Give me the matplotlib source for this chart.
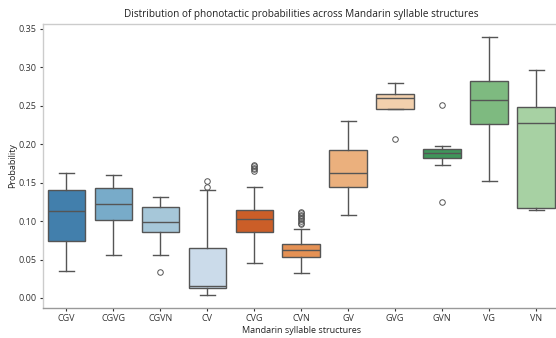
import matplotlib
matplotlib.use("Agg")
import matplotlib.pyplot as plt
import seaborn as sns

categories = ["CGV", "CGVG", "CGVN", "CV", "CVG", "CVN", "GV", "GVG", "GVN", "VG", "VN"]
whislo = [0.0346, 0.0563, 0.0563, 0.0043, 0.0450, 0.0329, 0.1082, 0.2455, 0.1723, 0.1520, 0.1147]
q1 = [0.0740, 0.1009, 0.0861, 0.0126, 0.0853, 0.0532, 0.1446, 0.2455, 0.1822, 0.2260, 0.1169]
med = [0.1126, 0.1216, 0.0983, 0.0152, 0.1026, 0.0623, 0.1623, 0.2593, 0.1883, 0.2567, 0.2268]
q3 = [0.1400, 0.1424, 0.1186, 0.0645, 0.1147, 0.0697, 0.1922, 0.2645, 0.1939, 0.2814, 0.2485]
whishi = [0.1620, 0.1600, 0.1312, 0.1407, 0.1442, 0.0900, 0.2294, 0.2788, 0.1970, 0.3385, 0.2957]
fliers = [
    [],
    [],
    [0.0342],
    [0.1437, 0.1524],
    [0.165, 0.167, 0.169, 0.171, 0.173],
    [0.096, 0.098, 0.100, 0.102, 0.104, 0.106, 0.108, 0.110, 0.112],
    [],
    [0.2061],
    [0.1243, 0.2506],
    [],
    [],
]

pal = sns.color_palette("tab20c", 20)
colors = [sns.desaturate(c, 0.75) for c in pal[:11]]

stats = []
for i, name in enumerate(categories):
    stats.append(dict(label=name, whislo=whislo[i], q1=q1[i], med=med[i],
                      q3=q3[i], whishi=whishi[i], fliers=fliers[i]))

plt.rcParams['font.family'] = ['Open Sans', 'DejaVu Sans']
fig = plt.figure(figsize=(5.56, 3.38), dpi=100)
W, H = 556, 338
ax = fig.add_axes([43 / W, (H - 308) / H, (559.5 - 43) / W, (308 - 24) / H])

line_c = "#555555"
bp = ax.bxp(stats, positions=range(len(categories)), widths=0.8, patch_artist=True,
            showfliers=True,
            boxprops=dict(edgecolor=line_c, linewidth=1.0),
            medianprops=dict(color=line_c, linewidth=1.0),
            whiskerprops=dict(color=line_c, linewidth=1.0),
            capprops=dict(color=line_c, linewidth=1.0),
            flierprops=dict(marker="o", markerfacecolor="none", markeredgecolor=line_c,
                            markersize=4.0, markeredgewidth=0.7),
            capwidths=0.32)
for patch, c in zip(bp["boxes"], colors):
    patch.set_facecolor(c)

ax.set_xlim(-0.5, 10.5)
ax.set_ylim(-0.013, 0.356)
ax.set_yticks([0.0, 0.05, 0.10, 0.15, 0.20, 0.25, 0.30, 0.35])
ax.set_yticklabels(["0.00", "0.05", "0.10", "0.15", "0.20", "0.25", "0.30", "0.35"])
ax.set_xticks(range(len(categories)))
ax.set_xticklabels(categories)
ax.tick_params(labelsize=6.5, length=2.5, width=0.8, colors="#333333", pad=2)
for s in ["left", "top", "right"]:
    ax.spines[s].set_color("#cccccc")
ax.spines["bottom"].set_color("#999999")
for s in ax.spines.values():
    s.set_linewidth(1.0)
ax.set_title("Distribution of phonotactic probabilities across Mandarin syllable structures",
             fontsize=7.2, color="#222222", pad=5)
ax.set_xlabel("Mandarin syllable structures", fontsize=6.5, color="#222222", labelpad=2)
ax.set_ylabel("Probability", fontsize=6.5, color="#222222", labelpad=1)

fig.savefig("out.png", dpi=100)
